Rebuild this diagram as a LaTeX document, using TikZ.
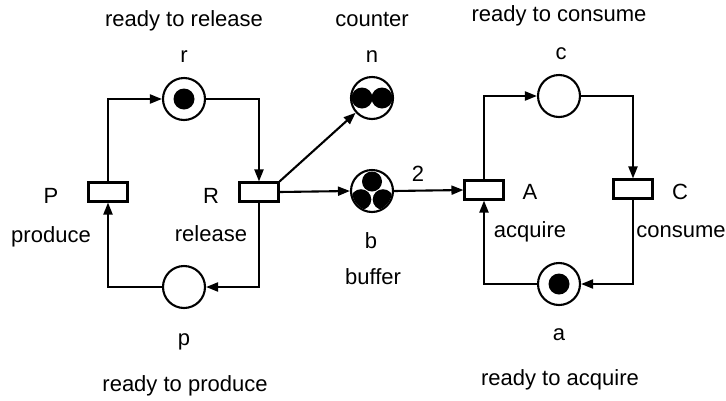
\documentclass[tikz,border=0pt]{standalone}
\usepackage{fontspec}
\setmainfont{Liberation Sans}
\usetikzlibrary{arrows.meta}
\begin{document}
\begin{tikzpicture}[x=1pt,y=-1pt,
  place/.style={circle,draw,line width=2.1pt,minimum size=42pt,inner sep=0pt},
  trans/.style={rectangle,draw,line width=2.1pt,minimum width=39pt,minimum height=19pt,inner sep=0pt},
  arc/.style={line width=2.1pt,-{Triangle[length=12pt,width=9pt]}},
  lbl/.style={font=\fontsize{22}{26}\selectfont,inner sep=0pt,anchor=base},
  token/.style={fill=black}]
\useasboundingbox[fill=white] (0,0) rectangle (726,400);
% places
\node[place] (r) at (184,99) {};
\node[place] (n) at (372,98) {};
\node[place] (c) at (559,96) {};
\node[place] (b) at (372,191) {};
\node[place] (p) at (184,287) {};
\node[place] (a) at (559,284) {};
% transitions
\node[trans] (P) at (108,192) {};
\node[trans] (R) at (259,192) {};
\node[trans] (A) at (484,190) {};
\node[trans] (C) at (633,189) {};
% tokens
\fill[token] (r.center) circle (10.5);
\fill[token] (a.center) circle (10.5);
\fill[token] ([xshift=-10pt]n.center) circle (10.5);
\fill[token] ([xshift=10pt]n.center) circle (10.5);
\begin{scope}
  \clip (b.center) circle (20);
  \fill[token] ([yshift=9.5pt]b.center) circle (10);
  \fill[token] ([xshift=-11pt,yshift=-8.5pt]b.center) circle (10.3);
  \fill[token] ([xshift=11pt,yshift=-8.5pt]b.center) circle (10.3);
\end{scope}
% arcs
\draw[arc] (P.north) |- (r.west);
\draw[arc] (r.east) -| (R.north);
\draw[arc] (R.south) |- (p.east);
\draw[arc] (p.west) -| (P.south);
\draw[arc] (R.north east) -- (n);
\draw[arc] (R.east) -- (b.west);
\draw[arc] (b.east) -- (A.west);
\draw[arc] (A.north) |- (c.west);
\draw[arc] (c.east) -| (C.north);
\draw[arc] (C.south) |- (a.east);
\draw[arc] (a.west) -| (A.south);
% labels
\node[lbl] (l2) at (418,181) {2};
\node[lbl] (lrr) at (184,26) {ready to release};
\node[lbl] (lcounter) at (372,26) {counter};
\node[lbl] (lrc) at (559,21) {ready to consume};
\node[lbl] (lr) at (184,62) {r};
\node[lbl] (ln) at (372,62) {n};
\node[lbl] (lc) at (561,59) {c};
\node[lbl] (lP) at (51,203) {P};
\node[lbl] (lproduce) at (51,242) {produce};
\node[lbl] (lR) at (211,203) {R};
\node[lbl] (lrelease) at (211,241) {release};
\node[lbl] (lb) at (371,248) {b};
\node[lbl] (lbuffer) at (373,284) {buffer};
\node[lbl] (lA) at (530,199) {A};
\node[lbl] (lacquire) at (530,237) {acquire};
\node[lbl] (lC) at (680,199) {C};
\node[lbl] (lconsume) at (681,237) {consume};
\node[lbl] (lp) at (184,345) {p};
\node[lbl] (lrp) at (185,391) {ready to produce};
\node[lbl] (la) at (559,340) {a};
\node[lbl] (lra) at (560,385) {ready to acquire};
\end{tikzpicture}
\end{document}
